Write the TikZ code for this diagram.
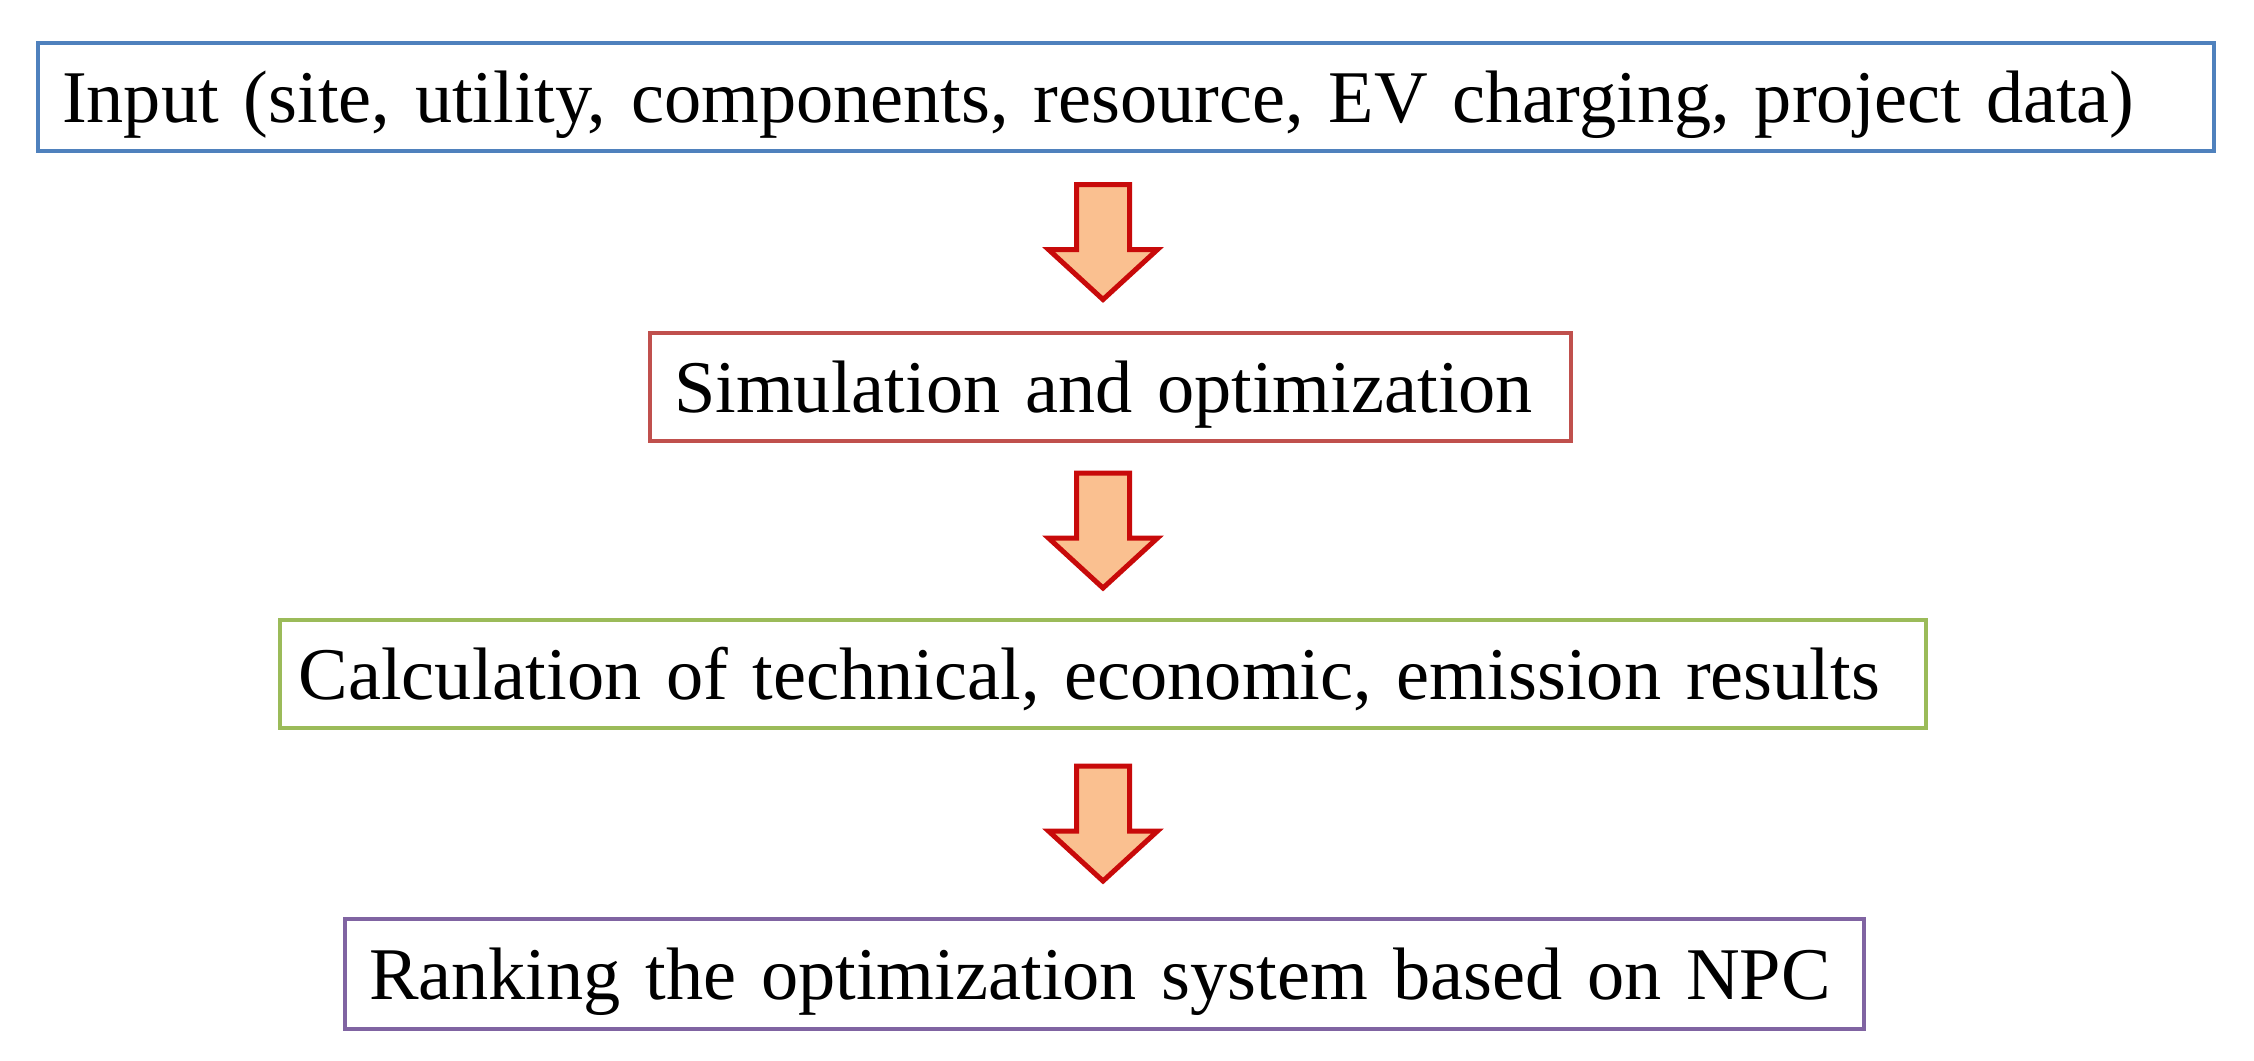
\documentclass[tikz,border=0pt]{standalone}
\usepackage{fontspec}
\setmainfont{Liberation Serif}
\usetikzlibrary{calc}
\definecolor{bxblue}{HTML}{4F81BD}
\definecolor{bxred}{HTML}{C0504D}
\definecolor{bxgreen}{HTML}{9BBB59}
\definecolor{bxpurple}{HTML}{8064A2}
\definecolor{arrowline}{HTML}{C80A0A}
\definecolor{arrowfill}{HTML}{FAC090}
\begin{document}
\begin{tikzpicture}[x=0.3pt,y=-0.3pt,
  box/.style={draw, line width=1.2pt, inner xsep=7.2pt, inner ysep=0pt,
    text height=15pt, text depth=0pt, minimum height=32.4pt,
    align=left, font=\fontsize{22.3}{27}\selectfont},
  arrowst/.style={draw=arrowline, fill=arrowfill, line width=1.5pt, miter limit=10},
  blockarrow/.pic={\draw[arrowst] (-26.5,-57.5) -- (26.5,-57.5) -- (26.5,7.5) -- (54.5,7.5) -- (0,57.5) -- (-54.5,7.5) -- (-26.5,7.5) -- cycle;}
]
\useasboundingbox (0,0) rectangle (2254,1060);
\node[box, draw=bxblue, text width=638.4pt] (in) at (1126,97)
  {\mbox{Input (site, utility, components, resource, EV charging, project data)}};
\node[box, draw=bxred, text width=261.9pt] (sim) at (1110.5,387)
  {\mbox{Simulation and optimization}};
\node[box, draw=bxgreen, text width=479.4pt] (calc) at (1103,674)
  {\mbox{\hspace*{-1.6pt}Calculation of technical, economic, emission results}};
\node[box, draw=bxpurple, text width=441.3pt, minimum height=33pt] (rank) at (1104.5,974)
  {\mbox{Ranking the optimization system based on NPC}};
\coordinate (ax) at (1103,0);
\coordinate (m1) at ($(in.south)!0.5!(sim.north)$);
\coordinate (m2) at ($(sim.south)!0.5!(calc.north)$);
\coordinate (m3) at ($(calc.south)!0.5!(rank.north)$);
\pic at (ax |- m1) {blockarrow};
\pic at (ax |- m2) {blockarrow};
\pic at (ax |- m3) {blockarrow};
\end{tikzpicture}
\end{document}
